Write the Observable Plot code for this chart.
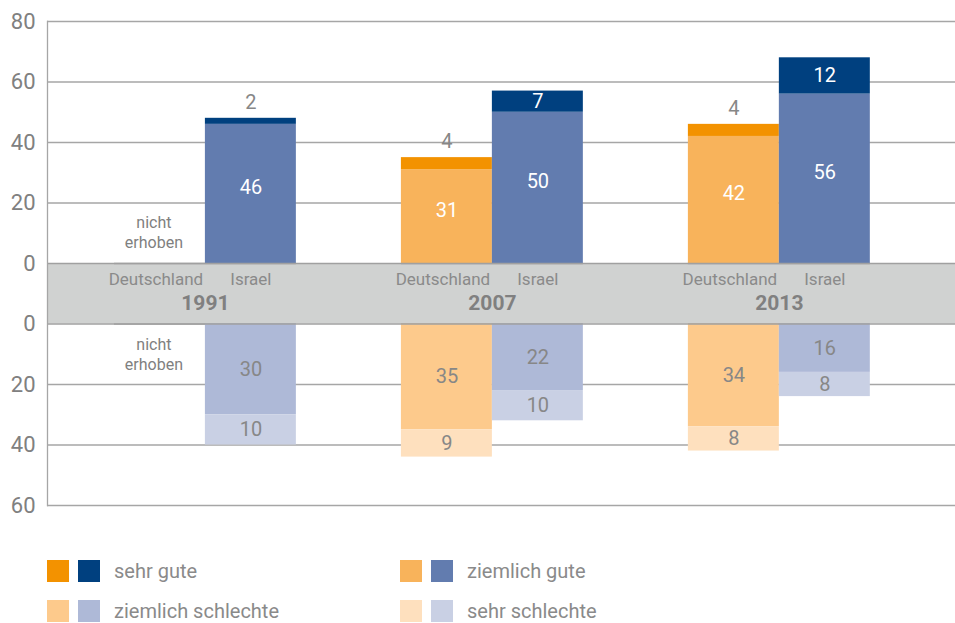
<!DOCTYPE html>
<html>
<head>
<meta charset="utf-8">
<script src="https://cdn.jsdelivr.net/npm/d3@7"></script>
<script src="https://cdn.jsdelivr.net/npm/@observablehq/plot@0.6"></script>
<style>
  html, body { margin: 0; padding: 0; background: #fff; }
  body { width: 955px; height: 623px; overflow: hidden; font-family: Roboto, "Open Sans", sans-serif; }
  #chart { position: relative; width: 955px; height: 530px; }
  #chart svg { position: absolute; left: 0; top: 0; }
  #legend { display: grid; grid-template-columns: 353px auto; row-gap: 18px; padding: 30px 0 0 47px; }
  .item { display: flex; align-items: center; height: 22px; }
  .sw { width: 22px; height: 22px; margin-right: 9px; }
  .lab { margin-left: 5px; font-size: 20px; color: #8a8a8a; white-space: nowrap; }
</style>
</head>
<body>
<div id="chart"></div>
<div id="legend"></div>
<script>
// ---- data ----
const years = ["1991", "2007", "2013"];
const countries = ["Deutschland", "Israel"];
const categories = ["sehr gute", "ziemlich gute", "ziemlich schlechte", "sehr schlechte"];

// Deutschland (null = nicht erhoben)
const deSehrGute          = [null, 4, 4];
const deZiemlichGute      = [null, 31, 42];
const deZiemlichSchlechte = [null, 35, 34];
const deSehrSchlechte     = [null, 9, 8];
// Israel
const ilSehrGute          = [2, 7, 12];
const ilZiemlichGute      = [46, 50, 56];
const ilZiemlichSchlechte = [30, 22, 16];
const ilSehrSchlechte     = [10, 10, 8];

const colorsDE = ["#f39200", "#f8b35b", "#fdca8c", "#fee0be"];
const colorsIL = ["#00407f", "#627caf", "#aeb9d7", "#c9d0e4"];

const topTicks = [80, 60, 40, 20, 0];
const bottomTicks = [0, 20, 40, 60];
const notSurveyedText = "nicht\nerhoben";

// ---- split axis (value units) ----
const gap = 20;                 // height of the grey year band, in value units
const toBottom = v => -gap - v; // maps a value of the lower panel

// ---- build tables ----
const series = {
  Deutschland: [deSehrGute, deZiemlichGute, deZiemlichSchlechte, deSehrSchlechte],
  Israel: [ilSehrGute, ilZiemlichGute, ilZiemlichSchlechte, ilSehrSchlechte]
};
const palette = {Deutschland: colorsDE, Israel: colorsIL};

const segs = [];
const lblGood = [];     // ziemlich gute, white, inside
const lblTopIn = [];    // sehr gute, white, inside
const lblTopOut = [];   // sehr gute, grey, above the bar
const lblBad = [];      // schlechte, grey, inside
const missing = [];
years.forEach((year, i) => {
  countries.forEach(country => {
    const [sg, zg, zs, ss] = series[country].map(a => a[i]);
    const col = palette[country];
    if (zg == null) { missing.push({year, country}); return; }
    segs.push({year, country, y1: 0, y2: zg, color: col[1]});
    segs.push({year, country, y1: zg, y2: zg + sg, color: col[0]});
    segs.push({year, country, y1: toBottom(0), y2: toBottom(zs), color: col[2]});
    segs.push({year, country, y1: toBottom(zs), y2: toBottom(zs + ss), color: col[3]});
    lblGood.push({year, country, y: zg / 2, text: zg});
    if (sg < 5) lblTopOut.push({year, country, y: zg + sg, text: sg});
    else lblTopIn.push({year, country, y: zg + sg / 2, text: sg});
    lblBad.push({year, country, y: toBottom(zs / 2), text: zs});
    lblBad.push({year, country, y: toBottom(zs + ss / 2), text: ss});
  });
});

const bandDE = years.map(year => ({year, country: countries[0]}));
const bandIL = years.map(year => ({year, country: countries[1]}));
const tickRows = [
  ...topTicks.map(v => ({y: v, label: String(v)})),
  ...bottomTicks.map(v => ({y: toBottom(v), label: String(v)}))
];
const gridRows = [80, 60, 40, 20, toBottom(20), toBottom(40), toBottom(60)];

const common = {
  width: 955,
  height: 530,
  marginLeft: 47,
  marginRight: 0,
  marginTop: 21,
  marginBottom: 25,
  y: {domain: [toBottom(60), 80], axis: null, label: null}
};
const font = "Roboto, 'Open Sans', sans-serif";
const grey = "#878787";

// background: grid, grey band, axis line, tick labels
const back = Plot.plot({
  ...common,
  style: {fontFamily: font, background: "white", overflow: "visible"},
  marks: [
    Plot.rect([{y1: 0, y2: toBottom(0)}], {y1: "y1", y2: "y2", fill: "#d0d2d1"}),
    Plot.ruleY(gridRows, {stroke: "#a6a6a6", strokeWidth: 1.3}),
    Plot.ruleY([0, toBottom(0)], {stroke: "#a0a0a0", strokeWidth: 1.5}),
    Plot.frame({anchor: "left", stroke: "#a6a6a6", strokeWidth: 1.3}),
    Plot.text(tickRows, {y: "y", text: "label", frameAnchor: "left", textAnchor: "end", dx: -12,
      fill: "#808080", fontSize: 22})
  ]
});

// foreground: bars and labels, faceted by year
const front = Plot.plot({
  ...common,
  style: {fontFamily: font, background: "transparent", overflow: "visible"},
  fx: {domain: years, paddingInner: 0.366, paddingOuter: 0.265, align: 0.44, round: false, axis: null, label: null},
  x: {domain: countries, padding: 0, round: false, axis: null, label: null},
  color: {type: "identity"},
  marks: [
    Plot.barY(segs, {fx: "year", x: "country", y1: "y1", y2: "y2", fill: "color", inset: 0}),
    Plot.ruleY([0, toBottom(0)], {stroke: "#a0a0a0", strokeWidth: 1.5}),
    Plot.text(lblGood, {fx: "year", x: "country", y: "y", text: "text", fill: "white", dy: -6, fontSize: 20}),
    Plot.text(lblTopIn, {fx: "year", x: "country", y: "y", text: "text", fill: "white", fontSize: 20}),
    Plot.text(lblTopOut, {fx: "year", x: "country", y: "y", text: "text", fill: grey, dy: -16, fontSize: 20}),
    Plot.text(lblBad, {fx: "year", x: "country", y: "y", text: "text", fill: grey, fontSize: 20}),
    Plot.text(missing, {fx: "year", x: "country", y: 10.6, text: () => notSurveyedText,
      fill: "#808080", fontSize: 16, lineHeight: 1.25, dx: -6}),
    Plot.text(missing, {fx: "year", x: "country", y: toBottom(9.75), text: () => notSurveyedText,
      fill: "#808080", fontSize: 16, lineHeight: 1.25, dx: -6}),
    Plot.text(bandDE, {fx: "year", x: "country", y: -5.3, text: "country", fill: "#8a8a8a", fontSize: 17, dx: -4}),
    Plot.text(bandIL, {fx: "year", x: "country", y: -5.3, text: "country", fill: "#8a8a8a", fontSize: 17}),
    Plot.text(years, {fx: d => d, y: -13.3, text: d => d, frameAnchor: "middle",
      fill: "#808080", fontSize: 21, fontWeight: "bold"})
  ]
});
const holder = document.getElementById("chart");
holder.appendChild(back);
holder.appendChild(front);

// ---- legend ----
const legend = document.getElementById("legend");
[0, 1, 2, 3].forEach(k => {
  const item = document.createElement("div");
  item.className = "item";
  item.innerHTML =
    `<div class="sw" style="background:${colorsDE[k]}"></div>` +
    `<div class="sw" style="background:${colorsIL[k]}"></div>` +
    `<div class="lab">${categories[k]}</div>`;
  legend.appendChild(item);
});
</script>
</body>
</html>
